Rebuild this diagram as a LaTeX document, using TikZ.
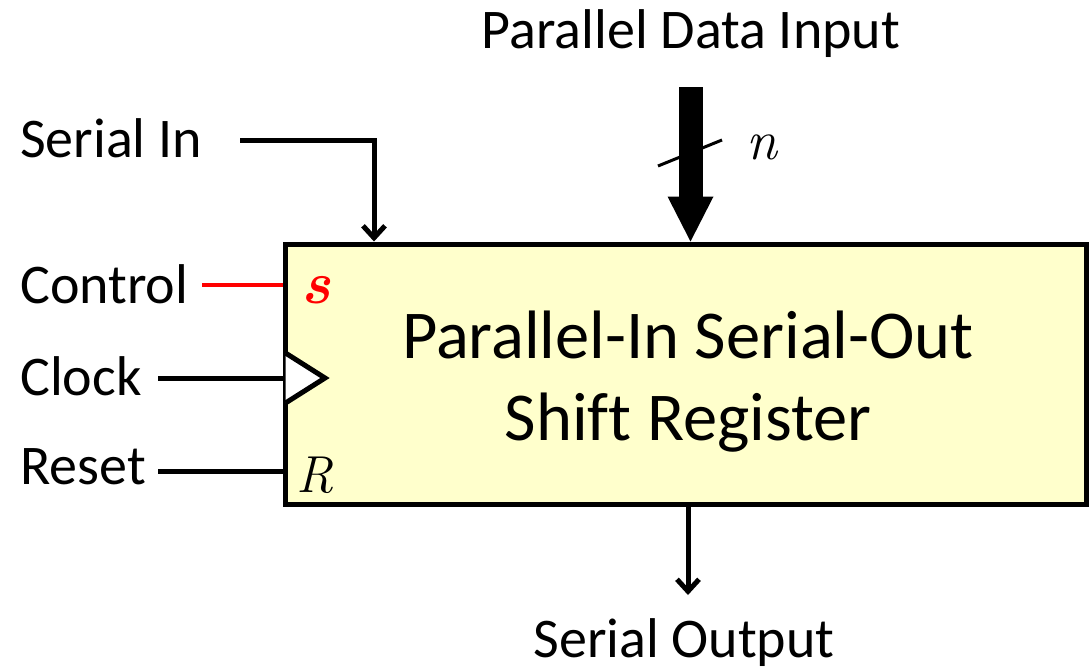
\documentclass[tikz,border=0pt]{standalone}
\usepackage{fontspec}
\setmainfont{Carlito}[Ligatures=NoCommon]
\newfontfamily\pinfont{Latin Modern Roman}
\usetikzlibrary{arrows.meta}
\definecolor{regfill}{HTML}{FFFFCC}
\begin{document}
\begin{tikzpicture}[x=1pt,y=-1pt,
  lbl/.style={font=\fontsize{56}{67}\selectfont, inner sep=0pt, anchor=base west},
  ttl/.style={font=\fontsize{68.5}{82}\selectfont, inner sep=0pt, anchor=base},
  captext/.style={font=\fontsize{56}{67}\selectfont, inner sep=0pt, anchor=base},
  pin/.style={font=\fontsize{56}{67}\selectfont\pinfont\itshape, inner sep=0pt, anchor=base west},
  wire/.style={line width=5pt},
  sig/.style={wire, -{Straight Barb[length=12pt,width=22pt]}},
  ctlwire/.style={line width=3.5pt, red},
]
\useasboundingbox (0,0) rectangle (1089,670);

% register block
\node[draw, line width=5pt, fill=regfill, minimum width=800.5pt,
      minimum height=260pt, inner sep=0pt] (reg) at (685.75,374) {};
\node[ttl] (t1) at (688,358) {Parallel-In Serial-Out};
\node[ttl] (t2) at (688,440) {Shift Register};

% pin marks inside the block
\node[pin, text=red, font=\fontsize{60}{67}\selectfont\pinfont\bfseries\itshape]
  (spin) at (301,303) {s};
\node[pin, font=\fontsize{52}{64}\selectfont\pinfont\itshape]
  (rpin) at (296,492) {R};
\draw[line width=5pt, fill=white, line join=miter]
  (285.5,353) -- (325,378) -- (285.5,403);

% input labels
\node[lbl] (silbl) at (20,157) {Serial In};
\node[lbl] (ctllbl) at (20,303) {Control};
\node[lbl] (clklbl) at (20,395) {Clock};
\node[lbl] (rstlbl) at (20,484) {Reset};

% wire ends
\coordinate (si) at (240,140);
\coordinate (ctl) at (202,285);
\coordinate (clk) at (158,378);
\coordinate (rst) at (158,471);
\coordinate (so) at (688,595);
\coordinate (pdi) at (690.5,87);

% connectors
\draw[sig] (si) -| ([xshift=91pt]reg.north west);
\draw[ctlwire] (ctl) -- (ctl -| reg.west);
\draw[wire] (clk) -- (clk -| reg.west);
\draw[wire] (rst) -- (rst -| reg.west);
\draw[sig] (reg.south -| so) -- (so);

% parallel data bus
\draw[line width=24pt, -{Triangle[length=45pt,width=46pt,line width=0pt]}]
  (pdi) -- (pdi |- reg.north);
\draw[line width=3pt] (658,166) -- (722,140);
\node[pin] (nlbl) at (746,159) {n};

% top and bottom captions
\node[captext] (pdilbl) at (691,48) {Parallel Data Input};
\node[captext] (solbl) at (684,657) {Serial Output};
\end{tikzpicture}
\end{document}
